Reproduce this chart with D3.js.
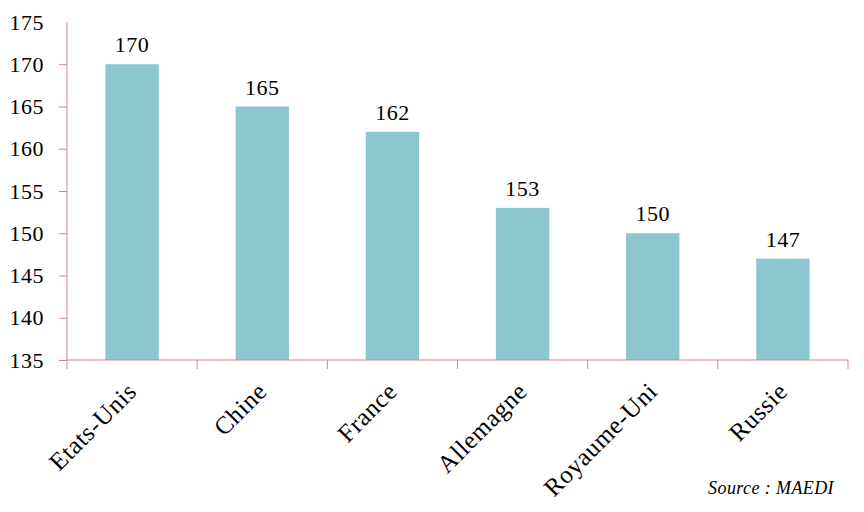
<!DOCTYPE html>
<html>
<head>
<meta charset="utf-8">
<script src="https://cdn.jsdelivr.net/npm/d3@7"></script>
</head>
<body style="margin:0">
<script>
const countries = ["Etats-Unis", "Chine", "France", "Allemagne", "Royaume-Uni", "Russie"];
const values = [170, 165, 162, 153, 150, 147];
const yTicks = [135, 140, 145, 150, 155, 160, 165, 170, 175];

const width = 864;
const height = 512;
const axisColor = "#d98383";
const barColor = "#8cc6ce";
const fontFam = "'Liberation Serif'";

const svg = d3.select("body")
  .append("svg")
  .attr("width", width)
  .attr("height", height)
  .attr("font-family", "Liberation Serif");

const x = d3.scaleBand()
  .domain(countries)
  .range([67, 848])
  .padding(0);

const y = d3.scaleLinear()
  .domain([135, 175])
  .range([360, 22]);

// bars
const step = x.bandwidth();
const barW = step * 0.41;
svg.append("g")
  .selectAll("rect")
  .data(countries)
  .enter()
  .append("rect")
    .attr("x", d => x(d) + (step - barW) / 2)
    .attr("y", (d, i) => y(values[i]))
    .attr("width", barW)
    .attr("height", (d, i) => y(135) - y(values[i]))
    .attr("fill", barColor);

// value labels
svg.append("g")
  .selectAll("text")
  .data(countries)
  .enter()
  .append("text")
    .attr("x", d => x(d) + step / 2)
    .attr("y", (d, i) => y(values[i]) - 12)
    .attr("text-anchor", "middle")
    .style("font-family", fontFam)
    .style("font-size", "22px")
    .style("letter-spacing", "0.5px")
    .text((d, i) => values[i]);

// y axis
const yAxis = svg.append("g")
  .attr("transform", "translate(67,0)")
  .call(d3.axisLeft(y).tickValues(yTicks).tickSize(8).tickPadding(15))
  .attr("font-family", "Liberation Serif");
yAxis.select(".domain").attr("stroke", axisColor).attr("d", "M0," + y(175) + "V" + y(135));
yAxis.selectAll(".tick line").attr("stroke", axisColor);
yAxis.selectAll(".tick").filter(d => d === 175).select("line").remove();
yAxis.selectAll(".tick text")
  .style("font-size", "22px")
  .style("font-family", fontFam)
  .style("letter-spacing", "0.5px")
  .attr("fill", "#000");

// x axis
const xAxis = svg.append("g")
  .attr("transform", "translate(0,360)");
xAxis.append("line")
  .attr("x1", x.range()[0]).attr("x2", x.range()[1])
  .attr("y1", 0).attr("y2", 0)
  .attr("stroke", axisColor);
xAxis.selectAll("line.tk")
  .data(countries.concat(["end"]))
  .enter()
  .append("line")
    .attr("class", "tk")
    .attr("x1", (d, i) => x.range()[0] + i * step)
    .attr("x2", (d, i) => x.range()[0] + i * step)
    .attr("y1", 0).attr("y2", 9)
    .attr("stroke", axisColor);

xAxis.selectAll("text")
  .data(countries)
  .enter()
  .append("text")
    .attr("text-anchor", "end")
    .attr("transform", d => "translate(" + (x(d) + step / 2 + 6) + ",33) rotate(-45)")
    .style("font-family", fontFam)
    .style("font-size", "25px")
    .style("letter-spacing", "0.6px")
    .text(d => d);

// source
svg.append("text")
  .attr("x", 834)
  .attr("y", 494)
  .attr("text-anchor", "end")
  .style("font-family", fontFam)
  .style("font-size", "18px")
  .style("font-style", "italic")
  .style("letter-spacing", "0.4px")
  .text("Source : MAEDI");
</script>
</body>
</html>
